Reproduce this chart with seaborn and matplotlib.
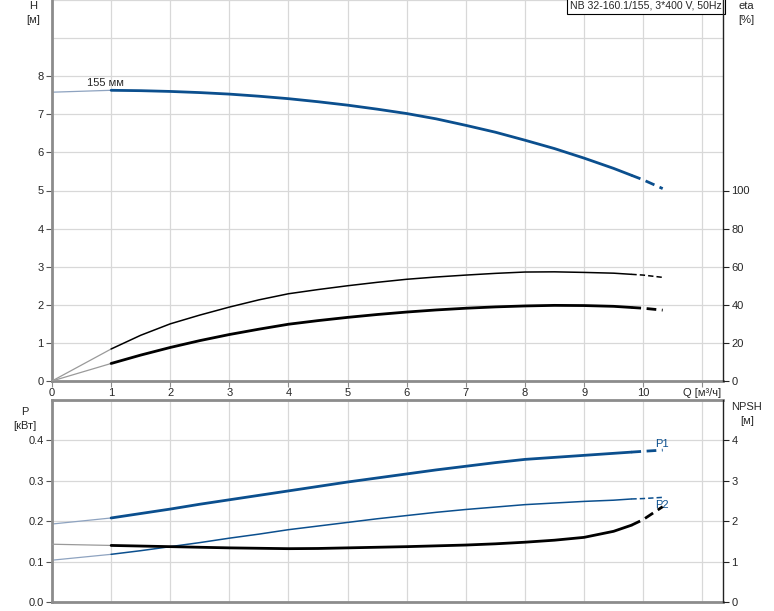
import seaborn as sns
import matplotlib.pyplot as plt
import pandas as pd
import numpy as np
from matplotlib.ticker import FixedLocator

sns.set_style("white")
plt.rcParams['font.family'] = ['Liberation Sans', 'DejaVu Sans']
plt.rcParams['font.size'] = 8

# flow points (m3/h)
q = [0, 1, 1.5, 2, 2.5, 3, 3.5, 4, 4.5, 5, 5.5, 6, 6.5, 7, 7.5, 8, 8.5, 9, 9.5, 9.8, 10, 10.33]
head = [7.58, 7.63, 7.62, 7.60, 7.57, 7.53, 7.475, 7.41, 7.33, 7.24, 7.135, 7.02, 6.88, 6.71,
        6.53, 6.32, 6.10, 5.85, 5.58, 5.40, 5.28, 5.05]
eta_total = [0, 16.8, 24.0, 30.0, 34.6, 38.8, 42.6, 45.8, 48.0, 50.0, 51.8, 53.4, 54.6, 55.6,
             56.5, 57.2, 57.3, 57.0, 56.6, 56.0, 55.6, 54.4]
eta_pump = [0, 9.2, 13.6, 17.6, 21.2, 24.4, 27.2, 29.8, 31.7, 33.4, 34.9, 36.2, 37.3, 38.2,
            38.9, 39.4, 39.7, 39.6, 39.2, 38.6, 38.2, 37.2]
p1 = [0.193, 0.208, 0.219, 0.230, 0.242, 0.253, 0.264, 0.275, 0.286, 0.297, 0.307, 0.317,
      0.327, 0.336, 0.345, 0.353, 0.358, 0.363, 0.368, 0.371, 0.373, 0.376]
p2 = [0.1035, 0.118, 0.127, 0.137, 0.147, 0.158, 0.168, 0.179, 0.188, 0.197, 0.206, 0.214,
      0.222, 0.229, 0.235, 0.241, 0.245, 0.249, 0.252, 0.255, 0.256, 0.259]
npsh = [1.43, 1.40, 1.385, 1.37, 1.355, 1.34, 1.33, 1.32, 1.325, 1.34, 1.355, 1.37, 1.39, 1.41,
        1.44, 1.48, 1.53, 1.60, 1.75, 1.90, 2.04, 2.36]

x_ticks = list(range(12))
x_labels = [str(i) for i in range(11)] + ["Q [м³/ч]"]

BLUE = "#0b4f8e"
LIGHT_BLUE = "#8ea3c0"
GRID = "#d8d8d8"


def draw(ax, y, color, lw, light):
    df = pd.DataFrame({"q": q, "y": y})
    start = df[df.q <= 1]
    main = df[(df.q >= 1) & (df.q <= 9.8)]
    tail = df[df.q >= 9.8]
    sns.lineplot(data=start, x="q", y="y", ax=ax, color=light, linewidth=0.9,
                 estimator=None, sort=False)
    sns.lineplot(data=main, x="q", y="y", ax=ax, color=color, linewidth=lw,
                 estimator=None, sort=False)
    sns.lineplot(data=tail, x="q", y="y", ax=ax, color=color, linewidth=lw,
                 estimator=None, sort=False, linestyle=(0, (3.5, 2)))


def style_axes(ax, ax2):
    ax.set_xlim(0, 11.35)
    ax.xaxis.set_major_locator(FixedLocator(x_ticks))
    ax.grid(True, which="both", color=GRID, linewidth=0.9)
    ax.set_axisbelow(True)
    for s in ["top", "right"]:
        ax.spines[s].set_visible(False)
    for s in ["left", "bottom"]:
        ax.spines[s].set_color("#8c8c8c")
        ax.spines[s].set_linewidth(2)
    for s in ["top", "left", "bottom"]:
        ax2.spines[s].set_visible(False)
    ax2.spines["right"].set_color("#222222")
    ax2.spines["right"].set_linewidth(1)
    ax.tick_params(axis="y", which="major", left=True, length=4, color="#555555", pad=2)
    ax.tick_params(axis="y", which="minor", length=0)
    ax2.tick_params(axis="y", right=True, length=4, color="#222222", pad=2)
    ax.set_xlabel("")
    ax.set_ylabel("")
    ax2.set_ylabel("")


fig = plt.figure(figsize=(7.74, 6.11), dpi=100)

# top panel: head and efficiency
ax = fig.add_axes([52 / 774, 1 - 381 / 611, 671 / 774, 381 / 611])
ax2 = ax.twinx()
ax.set_ylim(0, 10)
ax2.set_ylim(0, 200)
ax.yaxis.set_major_locator(FixedLocator(range(9)))
ax.yaxis.set_minor_locator(FixedLocator([9, 10]))
ax2.yaxis.set_major_locator(FixedLocator(range(0, 101, 20)))
draw(ax, head, BLUE, 2.0, LIGHT_BLUE)
draw(ax2, eta_total, "black", 1.1, "#9a9a9a")
draw(ax2, eta_pump, "black", 2.0, "#9a9a9a")
style_axes(ax, ax2)
ax.set_xticks(x_ticks)
ax.set_xticklabels(x_labels)
ax.tick_params(axis="x", bottom=True, length=4, color="#8c8c8c", pad=1)
ax.text(0.6, 7.7, "155 мм", fontsize=8, ha="left", va="bottom")
ax.text(0.9985, 0.998, "NB 32-160.1/155, 3*400 V, 50Hz", transform=ax.transAxes,
        ha="right", va="top", fontsize=7.6,
        bbox=dict(boxstyle="square,pad=0.3", facecolor="white", edgecolor="black", linewidth=0.8),
        zorder=10)
fig.text(33 / 774, 1 - 13 / 611, "H\n[м]", ha="center", va="center", fontsize=8, linespacing=1.4)
fig.text(746 / 774, 1 - 13 / 611, "eta\n[%]", ha="center", va="center", fontsize=8, linespacing=1.4)

# bottom panel: power and NPSH
bx = fig.add_axes([52 / 774, 1 - 602 / 611, 671 / 774, 202 / 611])
bx2 = bx.twinx()
bx.set_ylim(0, 0.5)
bx2.set_ylim(0, 5)
bx.yaxis.set_minor_locator(FixedLocator([0.5]))
bx.set_yticks([0, 0.1, 0.2, 0.3, 0.4])
bx.set_yticklabels(["0.0", "0.1", "0.2", "0.3", "0.4"])
bx2.yaxis.set_major_locator(FixedLocator(range(5)))
draw(bx, p1, BLUE, 2.0, LIGHT_BLUE)
draw(bx, p2, BLUE, 1.1, LIGHT_BLUE)
draw(bx2, npsh, "black", 2.0, "#9a9a9a")
style_axes(bx, bx2)
bx.spines["top"].set_visible(True)
bx.spines["top"].set_color("#8c8c8c")
bx.spines["top"].set_linewidth(2)
bx.set_xticks(x_ticks)
bx.set_xticklabels([])
bx.tick_params(axis="x", bottom=False)
bx.text(10.2, 0.378, "P1", color=BLUE, fontsize=8, ha="left", va="bottom")
bx.text(10.2, 0.228, "P2", color=BLUE, fontsize=8, ha="left", va="bottom")
fig.text(25 / 774, 1 - 419 / 611, "P\n[кВт]", ha="center", va="center", fontsize=8, linespacing=1.4)
fig.text(747 / 774, 1 - 414 / 611, "NPSH\n[м]", ha="center", va="center", fontsize=8, linespacing=1.4)

fig.savefig("out.png", dpi=100)
